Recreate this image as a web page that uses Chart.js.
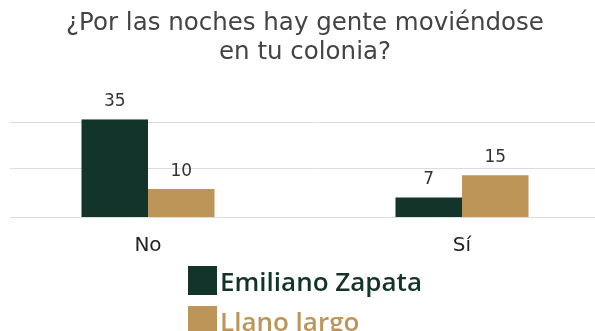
<!DOCTYPE html>
<html>
<head>
<meta charset="utf-8">
<script src="https://cdn.jsdelivr.net/npm/chart.js@4/dist/chart.umd.min.js"></script>
<style>
html,body{margin:0;padding:0;background:#fff;}
#wrap{position:relative;width:595px;height:331px;overflow:hidden;}
#chart{position:absolute;left:-9px;top:0;}
#legend{position:absolute;left:188px;top:266px;font-family:"Open Sans",sans-serif;font-weight:600;font-size:26px;}
.item{display:flex;align-items:center;height:29px;margin-bottom:11px;}
.box{width:29px;height:29px;margin-right:3px;}
</style>
</head>
<body>
<div id="wrap">
<canvas id="chart" width="628" height="331"></canvas>
<div id="legend"></div>
</div>
<script>
let titleLines = ["¿Por las noches hay gente moviéndose", "en tu colonia?"];
let categories = ["No", "Sí"];
let seriesNames = ["Emiliano Zapata", "Llano largo"];
let emilianoZapata = [35, 7];
let llanoLargo = [10, 15];
let gridTicks = [0, 17.5, 34];
let colors = ["#12342a", "#bd9558"];

// light horizontal lines, start a bit in from the left edge like the original
let gridLines = {
  id: "gridLines",
  beforeDatasetsDraw(chart){
    let ctx = chart.ctx;
    let y = chart.scales.y;
    ctx.save();
    ctx.strokeStyle = "#dcdcdc";
    ctx.lineWidth = 1;
    gridTicks.forEach(v=>{
      let py = Math.round(y.getPixelForValue(v)) + 0.5;
      ctx.beginPath();
      ctx.moveTo(19, py);
      ctx.lineTo(chart.width, py);
      ctx.stroke();
    });
    ctx.restore();
  }
};

let valueLabels = {
  id: "valueLabels",
  afterDatasetsDraw(chart){
    let ctx = chart.ctx;
    ctx.save();
    ctx.font = "17px 'DejaVu Sans'";
    ctx.fillStyle = "#333";
    ctx.textAlign = "center";
    ctx.textBaseline = "middle";
    chart.data.datasets.forEach((ds,i)=>{
      let meta = chart.getDatasetMeta(i);
      meta.data.forEach((bar,j)=>{
        ctx.fillText(ds.data[j], bar.x, bar.y - 18);
      });
    });
    ctx.restore();
  }
};

let chart = new Chart(document.getElementById("chart"),{
  type:"bar",
  data:{
    labels:categories,
    datasets:[
      {label:seriesNames[0], data:emilianoZapata, backgroundColor:colors[0]},
      {label:seriesNames[1], data:llanoLargo, backgroundColor:colors[1]}
    ]
  },
  options:{
    responsive:false,
    animation:false,
    layout:{padding:{left:0, right:0, top:0, bottom:64}},
    datasets:{bar:{categoryPercentage:0.4236, barPercentage:1}},
    plugins:{
      legend:{display:false},
      tooltip:{enabled:false},
      title:{
        display:true,
        text:titleLines,
        color:"#444",
        font:{family:"DejaVu Sans", size:24.5, weight:"normal", lineHeight:1.15},
        padding:{top:10, bottom:53}
      }
    },
    scales:{
      x:{
        grid:{display:false},
        border:{display:false},
        ticks:{color:"#222", font:{family:"DejaVu Sans", size:20}, padding:9}
      },
      y:{
        display:false,
        min:0, max:35
      }
    }
  },
  plugins:[gridLines, valueLabels]
});

let legend = document.getElementById("legend");
seriesNames.forEach((name,i)=>{
  let row = document.createElement("div");
  row.className = "item";
  row.innerHTML = `<div class="box" style="background:${colors[i]}"></div><span style="color:${colors[i]}">${name}</span>`;
  legend.appendChild(row);
});
</script>
</body>
</html>
